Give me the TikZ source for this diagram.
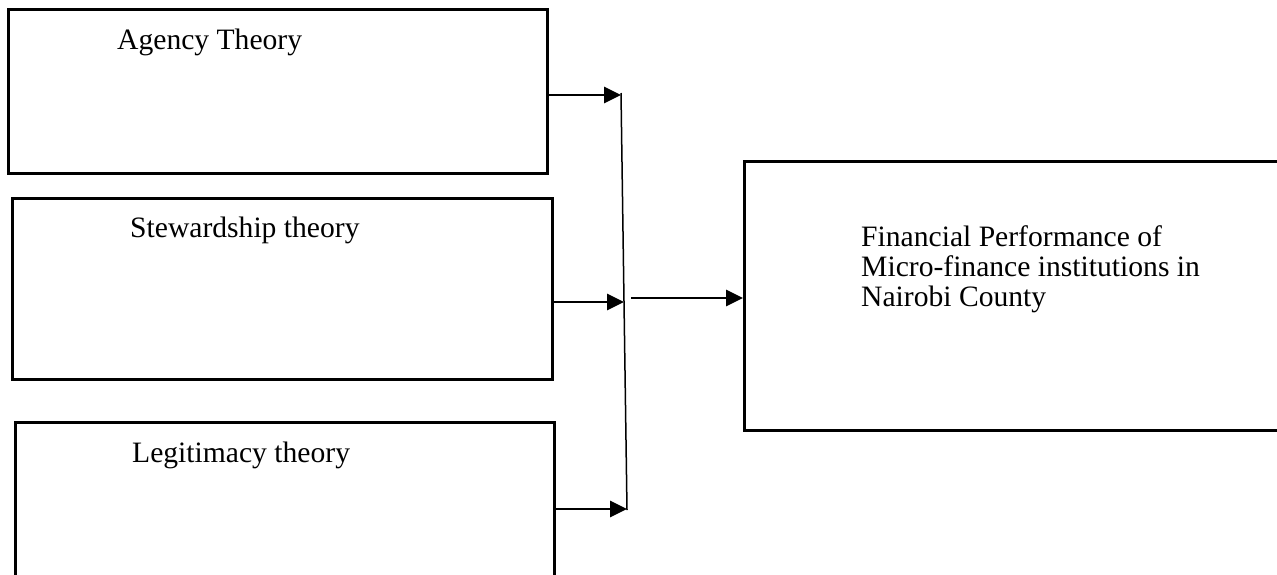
\documentclass[tikz,border=0pt]{standalone}
\usepackage{fontspec}
\setmainfont{Liberation Serif}
\usetikzlibrary{arrows.meta}

\begin{document}
\begin{tikzpicture}[x=1pt,y=-1pt,
  box/.style={draw=black, line width=2.7pt, inner sep=0pt, anchor=north west},
  lbl/.style={inner sep=0pt, font=\fontsize{29.6}{30}\selectfont},
  arr/.style={line width=2.8pt, -{Triangle[length=17pt,width=16pt]}}]

\useasboundingbox (0,0) rectangle (1277,574);

\node [box, minimum width=539pt, minimum height=164pt] (agency) at (7,8) {};
\node [box, minimum width=540pt, minimum height=181pt] (steward) at (11,197) {};
\node [box, minimum width=539pt, minimum height=200pt] (legit) at (14,421) {};
\node [box, minimum width=560pt, minimum height=269pt] (fin) at (743,160) {};

\node [lbl, anchor=base west] (agencyT) at (117,49) {Agency Theory};
\node [lbl, anchor=base west] (stewardT) at (130,237) {Stewardship theory};
\node [lbl, anchor=base west] (legitT) at (132,462) {Legitimacy theory};
\node [lbl, anchor=north west, align=left] (finT) at (861,225)
  {Financial Performance of\\Micro-finance institutions in\\Nairobi County};

\coordinate (T) at (621,93);
\coordinate (U) at (627,510);
\coordinate (TA) at (621,95);
\coordinate (TS) at (624,302);
\coordinate (TL) at (627,509);
\coordinate (O) at (631,298);

\draw [line width=1.5pt] (T) -- (U);

\draw [arr] (agency.east |- TA) -- (TA);
\draw [arr] (steward.east |- TS) -- (TS);
\draw [arr] (legit.east |- TL) -- (TL);
\draw [arr] (O) -- (O -| fin.west);

\end{tikzpicture}
\end{document}
